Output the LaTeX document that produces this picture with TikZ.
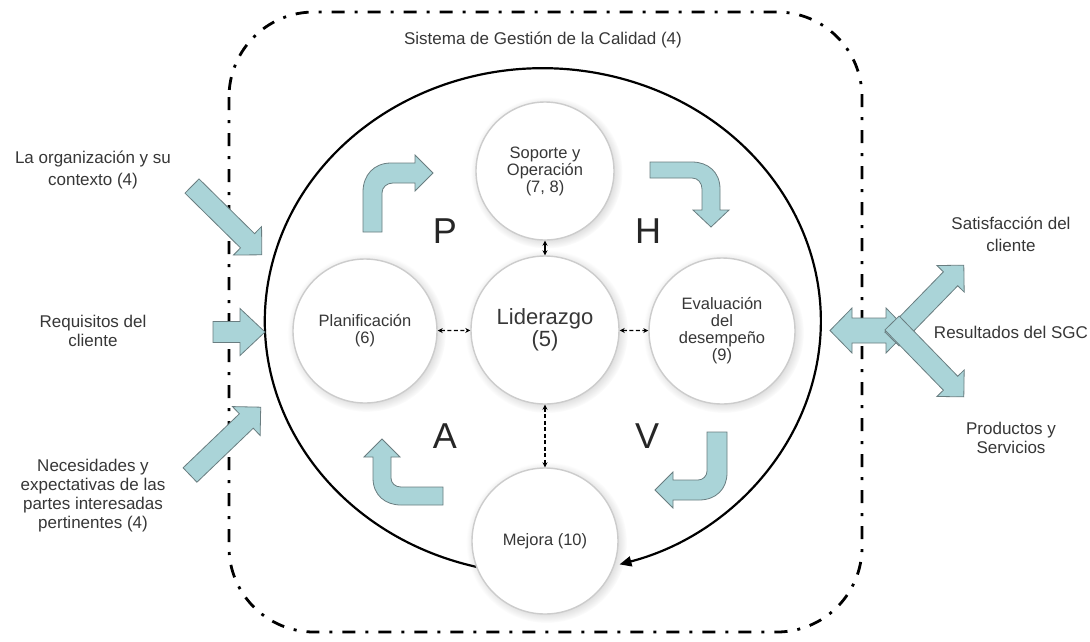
\documentclass[tikz,border=0pt]{standalone}
\usepackage{fontspec}
\setmainfont{Liberation Sans}
\usetikzlibrary{arrows.meta,shadows}
\definecolor{flow}{RGB}{170,212,216}
\definecolor{flowedge}{RGB}{105,125,128}
\definecolor{txt}{RGB}{55,55,55}

% straight block arrow: tail x, tail y, angle, length, shaft half width, head half width, head length
\newcommand\blockarrow[7]{%
  \begin{scope}[shift={(#1,#2)},rotate=#3]
    \draw[flowshape] (0,-#5) -- ({#4-#7},-#5) -- ({#4-#7},-#6) -- (#4,0)
      -- ({#4-#7},#6) -- ({#4-#7},#5) -- (0,#5) -- cycle;
  \end{scope}}

\begin{document}
\begin{tikzpicture}[x=1pt,y=-1pt,
  flowshape/.style={fill=flow,draw=flowedge,line width=0.8pt,line join=miter},
  boundary/.style={line width=2.8pt,dash pattern=on 13pt off 10pt on 3pt off 10pt,rounded corners=85pt},
  cyclearc/.style={line width=2.2pt,-{Triangle[length=12pt,width=10pt]}},
  stage/.style={circle,fill=white,draw=gray!40,line width=1.4pt,inner sep=0pt,align=center,
    text=txt,font=\fontsize{16.5}{17}\selectfont,
    circular drop shadow={shadow xshift=1.5pt,shadow yshift=-1.5pt,opacity=0.3}},
  sidetext/.style={align=center,text=txt,font=\fontsize{17}{19}\selectfont},
  pdca/.style={text=black!85,font=\fontsize{36}{36}\selectfont,inner sep=0pt},
  link/.style={line width=1.3pt,{Stealth[length=5pt,width=5pt]}-{Stealth[length=5pt,width=5pt]}},
  dlink/.style={link,dash pattern=on 4pt off 2.5pt}]
\useasboundingbox (0,0) rectangle (1090,641);
\fill[white] (0,0) rectangle (1090,641);

% system boundary
\draw[boundary] (229,12) rectangle (862,632);
\node[sidetext] (title) at (543,40) {Sistema de Gestión de la Calidad (4)};

% improvement cycle
\coordinate (arcstart) at (477,567);
\draw[cyclearc] (arcstart) arc[start angle=103.7,end angle=434,x radius=278,y radius=253];

% inputs
\blockarrow{192}{186}{-44.6}{98}{10}{20}{20}
\blockarrow{213}{332}{0}{52}{10.5}{23.5}{25}
\blockarrow{190}{475}{43.8}{98}{10}{20}{20}

% outputs
\begin{scope}[shift={(830,330.5)}]
  \draw[flowshape] (0,0) -- (22,-22.5) -- (22,-12.5) -- (56,-12.5) -- (56,-22.5) -- (78,0)
    -- (56,22.5) -- (56,12.5) -- (22,12.5) -- (22,22.5) -- cycle;
\end{scope}
\blockarrow{892}{339}{45.8}{103}{10}{19}{19}
\blockarrow{892}{323}{-45.8}{103}{10}{19}{19}

% PDCA turning arrows
\draw[flowshape] (363,232) -- (363,192) .. controls (363,175) and (374,163) .. (391,163)
  -- (415,163) -- (415,155) -- (433,173) -- (415,191) -- (415,183) -- (393,183)
  .. controls (387,183) and (382,187) .. (382,193) -- (382,232) -- cycle;
\draw[flowshape] (650,162) -- (692,162) .. controls (708,162) and (720,172) .. (720,189)
  -- (720,210) -- (729,210) -- (711,227) -- (693,210) -- (702,210) -- (702,189)
  .. controls (702,183) and (698,178) .. (692,178) -- (650,178) -- cycle;
\draw[flowshape] (727,432) -- (727,473) .. controls (727,489) and (716,500) .. (699,500)
  -- (673,500) -- (673,508) -- (655,490) -- (673,472) -- (673,480) -- (698,480)
  .. controls (703,480) and (707,476) .. (707,471) -- (707,432) -- cycle;
\draw[flowshape] (443,505) -- (401,505) .. controls (385,505) and (373,495) .. (373,478)
  -- (373,457) -- (364,457) -- (382,439) -- (400,457) -- (391,457) -- (391,478)
  .. controls (391,483) and (395,487) .. (401,487) -- (443,487) -- cycle;

% process stages
\node[stage,minimum size=138pt] (sop) at (545,171) {Soporte y\\Operación\\(7, 8)};
\node[stage,minimum size=144pt] (plan) at (365,331) {Planificación\\(6)};
\node[stage,minimum size=148pt,font=\fontsize{22}{22}\selectfont] (lid) at (545,330) {Liderazgo\\(5)};
\node[stage,minimum size=146pt] (eval) at (722,331) {Evaluación\\del\\desempeño\\(9)};
\node[stage,minimum size=146pt] (mej) at (545,541) {Mejora (10)};

\draw[link] (sop) -- (lid);
\draw[dlink] (plan) -- (lid);
\draw[dlink] (lid) -- (eval);
\draw[dlink] (lid) -- (mej);

% PDCA letters
\node[pdca] (p) at (445,231) {P};
\node[pdca] (h) at (648,231) {H};
\node[pdca] (a) at (445,436) {A};
\node[pdca] (v) at (647,436) {V};

% side texts
\node[sidetext,font=\fontsize{17}{22}\selectfont] (org) at (93,170) {La organización y su\\contexto (4)};
\node[sidetext] (req) at (93,331) {Requisitos del\\cliente};
\node[sidetext] (nec) at (93,496) {Necesidades y\\expectativas de las\\partes interesadas\\pertinentes (4)};
\node[sidetext,font=\fontsize{17}{22}\selectfont] (sat) at (1011,234) {Satisfacción del\\cliente};
\node[sidetext] (res) at (1011,332) {Resultados del SGC};
\node[sidetext] (prod) at (1011,438) {Productos y\\Servicios};
\end{tikzpicture}
\end{document}
